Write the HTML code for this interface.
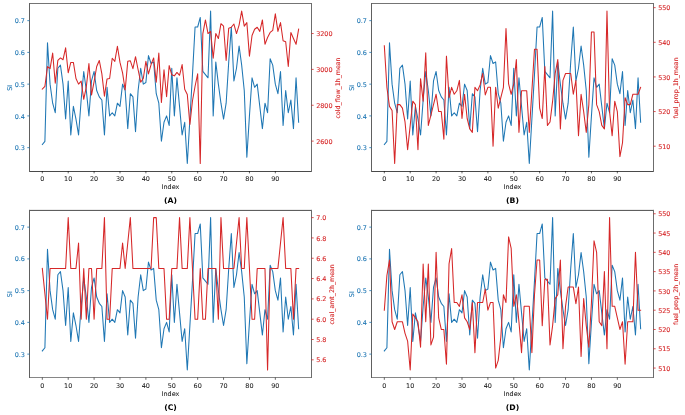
<!DOCTYPE html>
<html><head><meta charset="utf-8"><title>SI plots</title>
<style>html,body{margin:0;padding:0;background:#fff}svg{display:block;will-change:transform}</style></head>
<body>
<svg width="685" height="415" viewBox="0 0 685 415" text-rendering="geometricPrecision" font-family="'DejaVu Sans', 'Liberation Sans', sans-serif">
<rect width="685" height="415" fill="#fff"/>
<g>
<polyline fill="none" stroke="#1f77b4" stroke-width="1.05" stroke-linejoin="round" stroke-linecap="square" points="42.32,144.48 44.90,141.30 47.49,42.87 50.08,84.15 52.67,103.20 55.26,112.73 57.85,68.27 60.44,65.10 63.03,84.15 65.62,119.08 68.21,80.97 70.80,134.95 73.38,106.38 75.97,119.08 78.56,134.95 81.15,100.03 83.74,71.45 86.33,90.50 88.92,115.90 91.51,80.97 94.10,71.45 96.69,90.50 99.28,96.85 101.86,100.03 104.45,134.95 107.04,87.33 109.63,115.90 112.22,112.73 114.81,115.90 117.40,103.20 119.99,106.38 122.58,84.15 125.17,90.50 127.76,128.60 130.34,93.68 132.93,96.85 135.52,131.78 138.11,90.50 140.70,68.27 143.29,84.15 145.88,82.56 148.47,55.57 151.06,63.51 153.65,61.92 156.24,93.68 158.82,103.20 161.41,141.30 164.00,122.25 166.59,115.90 169.18,125.43 171.77,68.27 174.36,115.90 176.95,77.80 179.54,106.38 182.13,134.95 184.71,122.25 187.30,163.53 189.89,119.08 192.48,74.62 195.07,27.00 197.66,27.00 200.25,17.47 202.84,71.45 205.43,74.62 208.02,77.80 210.61,11.12 213.19,115.90 215.78,61.92 218.37,84.15 220.96,103.20 223.55,119.08 226.14,103.20 228.73,61.92 231.32,27.00 233.91,80.97 236.50,68.27 239.09,46.05 241.67,65.10 244.26,90.50 246.85,157.18 249.44,115.90 252.03,77.80 254.62,87.33 257.21,84.15 259.80,106.38 262.39,128.60 264.98,103.20 267.57,112.73 270.15,58.75 272.74,65.10 275.33,84.15 277.92,93.68 280.51,71.45 283.10,125.43 285.69,90.50 288.28,112.73 290.87,100.03 293.46,128.60 296.05,77.80 298.63,122.25"/>
<polyline fill="none" stroke="#d62728" stroke-width="1.05" stroke-linejoin="round" stroke-linecap="square" points="42.32,89.12 44.90,86.43 47.49,66.53 50.08,68.68 52.67,53.08 55.26,83.20 57.85,60.43 60.44,57.92 63.03,59.71 65.62,47.88 68.21,72.80 70.80,62.40 73.38,62.40 75.97,78.54 78.56,84.10 81.15,81.05 83.74,99.34 86.33,86.79 88.92,63.48 91.51,95.04 94.10,81.59 96.69,66.53 99.28,60.43 101.86,73.88 104.45,96.11 107.04,78.90 109.63,78.54 112.22,58.28 114.81,61.33 117.40,46.26 119.99,62.40 122.58,72.80 125.17,90.01 127.76,61.33 130.34,60.79 132.93,68.68 135.52,56.66 138.11,69.75 140.70,82.13 143.29,78.54 145.88,61.33 148.47,73.88 151.06,64.55 153.65,57.92 156.24,82.13 158.82,53.08 161.41,102.57 164.00,69.75 166.59,96.65 169.18,65.63 171.77,74.77 174.36,75.85 176.95,72.44 179.54,75.31 182.13,64.55 184.71,89.30 187.30,94.50 189.89,124.44 192.48,100.77 195.07,86.25 197.66,73.88 200.25,163.53 202.84,33.53 205.43,19.91 208.02,33.53 210.61,31.38 213.19,58.28 215.78,33.53 218.37,38.55 220.96,23.67 223.55,26.18 226.14,60.43 228.73,28.15 231.32,27.26 233.91,24.03 236.50,33.53 239.09,25.11 241.67,11.12 244.26,26.18 246.85,22.60 249.44,56.13 252.03,35.51 254.62,29.23 257.21,27.26 259.80,31.38 262.39,19.91 264.98,44.29 267.57,37.48 270.15,32.46 272.74,30.31 275.33,13.81 277.92,31.38 280.51,22.60 283.10,40.71 285.69,41.78 288.28,66.53 290.87,32.46 293.46,38.55 296.05,44.29 298.63,29.23"/>
<path d="M29.00 3.50H311.95" stroke="#747474" stroke-width="1" fill="none"/>
<path d="M29.00 171.50H311.95" stroke="#4a4a4a" stroke-width="1" fill="none"/>
<path d="M29.50 3.00V172.00" stroke="#606060" stroke-width="1" fill="none"/>
<path d="M311.50 3.00V172.00" stroke="#6c6c6c" stroke-width="1" fill="none"/>
<line x1="42.32" y1="171.15" x2="42.32" y2="173.35" stroke="#000" stroke-width="0.6"/>
<text x="42.32" y="180.55" font-size="6.45" text-anchor="middle" fill="#1a1a1a" stroke="#1a1a1a" stroke-width="0.05">0</text>
<line x1="68.21" y1="171.15" x2="68.21" y2="173.35" stroke="#000" stroke-width="0.6"/>
<text x="68.21" y="180.55" font-size="6.45" text-anchor="middle" fill="#1a1a1a" stroke="#1a1a1a" stroke-width="0.05">10</text>
<line x1="94.10" y1="171.15" x2="94.10" y2="173.35" stroke="#000" stroke-width="0.6"/>
<text x="94.10" y="180.55" font-size="6.45" text-anchor="middle" fill="#1a1a1a" stroke="#1a1a1a" stroke-width="0.05">20</text>
<line x1="119.99" y1="171.15" x2="119.99" y2="173.35" stroke="#000" stroke-width="0.6"/>
<text x="119.99" y="180.55" font-size="6.45" text-anchor="middle" fill="#1a1a1a" stroke="#1a1a1a" stroke-width="0.05">30</text>
<line x1="145.88" y1="171.15" x2="145.88" y2="173.35" stroke="#000" stroke-width="0.6"/>
<text x="145.88" y="180.55" font-size="6.45" text-anchor="middle" fill="#1a1a1a" stroke="#1a1a1a" stroke-width="0.05">40</text>
<line x1="171.77" y1="171.15" x2="171.77" y2="173.35" stroke="#000" stroke-width="0.6"/>
<text x="171.77" y="180.55" font-size="6.45" text-anchor="middle" fill="#1a1a1a" stroke="#1a1a1a" stroke-width="0.05">50</text>
<line x1="197.66" y1="171.15" x2="197.66" y2="173.35" stroke="#000" stroke-width="0.6"/>
<text x="197.66" y="180.55" font-size="6.45" text-anchor="middle" fill="#1a1a1a" stroke="#1a1a1a" stroke-width="0.05">60</text>
<line x1="223.55" y1="171.15" x2="223.55" y2="173.35" stroke="#000" stroke-width="0.6"/>
<text x="223.55" y="180.55" font-size="6.45" text-anchor="middle" fill="#1a1a1a" stroke="#1a1a1a" stroke-width="0.05">70</text>
<line x1="249.44" y1="171.15" x2="249.44" y2="173.35" stroke="#000" stroke-width="0.6"/>
<text x="249.44" y="180.55" font-size="6.45" text-anchor="middle" fill="#1a1a1a" stroke="#1a1a1a" stroke-width="0.05">80</text>
<line x1="275.33" y1="171.15" x2="275.33" y2="173.35" stroke="#000" stroke-width="0.6"/>
<text x="275.33" y="180.55" font-size="6.45" text-anchor="middle" fill="#1a1a1a" stroke="#1a1a1a" stroke-width="0.05">90</text>
<line x1="27.30" y1="147.65" x2="29.50" y2="147.65" stroke="#1f77b4" stroke-width="0.8"/>
<text x="24.90" y="150.26" font-size="6.45" text-anchor="end" fill="#1f77b4" stroke="#1f77b4" stroke-width="0.10">0.3</text>
<line x1="27.30" y1="115.90" x2="29.50" y2="115.90" stroke="#1f77b4" stroke-width="0.8"/>
<text x="24.90" y="118.51" font-size="6.45" text-anchor="end" fill="#1f77b4" stroke="#1f77b4" stroke-width="0.10">0.4</text>
<line x1="27.30" y1="84.15" x2="29.50" y2="84.15" stroke="#1f77b4" stroke-width="0.8"/>
<text x="24.90" y="86.75" font-size="6.45" text-anchor="end" fill="#1f77b4" stroke="#1f77b4" stroke-width="0.10">0.5</text>
<line x1="27.30" y1="52.40" x2="29.50" y2="52.40" stroke="#1f77b4" stroke-width="0.8"/>
<text x="24.90" y="55.00" font-size="6.45" text-anchor="end" fill="#1f77b4" stroke="#1f77b4" stroke-width="0.10">0.6</text>
<line x1="27.30" y1="20.65" x2="29.50" y2="20.65" stroke="#1f77b4" stroke-width="0.8"/>
<text x="24.90" y="23.25" font-size="6.45" text-anchor="end" fill="#1f77b4" stroke="#1f77b4" stroke-width="0.10">0.7</text>
<line x1="311.45" y1="141.12" x2="313.65" y2="141.12" stroke="#d62728" stroke-width="0.8"/>
<text x="316.15" y="143.72" font-size="6.45" text-anchor="start" fill="#d62728" stroke="#d62728" stroke-width="0.10">2600</text>
<line x1="311.45" y1="105.26" x2="313.65" y2="105.26" stroke="#d62728" stroke-width="0.8"/>
<text x="316.15" y="107.86" font-size="6.45" text-anchor="start" fill="#d62728" stroke="#d62728" stroke-width="0.10">2800</text>
<line x1="311.45" y1="69.39" x2="313.65" y2="69.39" stroke="#d62728" stroke-width="0.8"/>
<text x="316.15" y="72.00" font-size="6.45" text-anchor="start" fill="#d62728" stroke="#d62728" stroke-width="0.10">3000</text>
<line x1="311.45" y1="33.53" x2="313.65" y2="33.53" stroke="#d62728" stroke-width="0.8"/>
<text x="316.15" y="36.14" font-size="6.45" text-anchor="start" fill="#d62728" stroke="#d62728" stroke-width="0.10">3200</text>
<text x="170.47" y="189.35" font-size="6.45" text-anchor="middle" fill="#1a1a1a" stroke="#1a1a1a" stroke-width="0.05">Index</text>
<text x="170.47" y="203.35" font-size="7.70" font-weight="bold" text-anchor="middle" fill="#000">(A)</text>
<text transform="translate(11.70,87.73) rotate(-90)" font-size="6.45" text-anchor="middle" fill="#1f77b4" stroke="#1f77b4" stroke-width="0.10">SI</text>
<text transform="translate(340.05,87.92) rotate(-90)" font-size="6.27" text-anchor="middle" fill="#d62728" stroke="#d62728" stroke-width="0.10">cold_flow_1h_mean</text>
</g>
<g>
<polyline fill="none" stroke="#1f77b4" stroke-width="1.05" stroke-linejoin="round" stroke-linecap="square" points="384.32,144.48 386.90,141.30 389.49,42.87 392.08,84.15 394.67,103.20 397.26,112.73 399.85,68.27 402.44,65.10 405.03,84.15 407.62,119.08 410.21,80.97 412.80,134.95 415.38,106.38 417.97,119.08 420.56,134.95 423.15,100.03 425.74,71.45 428.33,90.50 430.92,115.90 433.51,80.97 436.10,71.45 438.69,90.50 441.28,96.85 443.86,100.03 446.45,134.95 449.04,87.33 451.63,115.90 454.22,112.73 456.81,115.90 459.40,103.20 461.99,106.38 464.58,84.15 467.17,90.50 469.76,128.60 472.34,93.68 474.93,96.85 477.52,131.78 480.11,90.50 482.70,68.27 485.29,84.15 487.88,82.56 490.47,55.57 493.06,63.51 495.65,61.92 498.24,93.68 500.82,103.20 503.41,141.30 506.00,122.25 508.59,115.90 511.18,125.43 513.77,68.27 516.36,115.90 518.95,77.80 521.54,106.38 524.13,134.95 526.71,122.25 529.30,163.53 531.89,119.08 534.48,74.62 537.07,27.00 539.66,27.00 542.25,17.47 544.84,71.45 547.43,74.62 550.02,77.80 552.61,11.12 555.19,115.90 557.78,61.92 560.37,84.15 562.96,103.20 565.55,119.08 568.14,103.20 570.73,61.92 573.32,27.00 575.91,80.97 578.50,68.27 581.09,46.05 583.67,65.10 586.26,90.50 588.85,157.18 591.44,115.90 594.03,77.80 596.62,87.33 599.21,84.15 601.80,106.38 604.39,128.60 606.98,103.20 609.57,112.73 612.15,58.75 614.74,65.10 617.33,84.15 619.92,93.68 622.51,71.45 625.10,125.43 627.69,90.50 630.28,112.73 632.87,100.03 635.46,128.60 638.05,77.80 640.63,122.25"/>
<polyline fill="none" stroke="#d62728" stroke-width="1.05" stroke-linejoin="round" stroke-linecap="square" points="384.32,45.76 386.90,87.33 389.49,106.38 392.08,110.53 394.67,163.53 397.26,104.64 399.85,104.64 402.44,108.11 405.03,121.96 407.62,149.67 410.21,125.43 412.80,101.18 415.38,104.64 417.97,149.67 420.56,78.67 423.15,101.18 425.74,52.69 428.33,125.43 430.92,115.04 433.51,104.64 436.10,94.25 438.69,111.57 441.28,111.57 443.86,139.28 446.45,56.15 449.04,97.72 451.63,87.33 454.22,94.25 456.81,90.79 459.40,80.40 461.99,118.50 464.58,94.25 467.17,118.50 469.76,128.89 472.34,132.35 474.93,87.33 477.52,90.79 480.11,84.90 482.70,73.47 485.29,94.95 487.88,87.33 490.47,87.33 493.06,146.21 495.65,87.33 498.24,108.11 500.82,97.72 503.41,87.33 506.00,28.44 508.59,83.86 511.18,94.25 513.77,83.86 516.36,59.61 518.95,132.35 521.54,90.79 524.13,90.79 526.71,90.79 529.30,132.35 531.89,90.79 534.48,49.22 537.07,49.22 539.66,108.11 542.25,118.50 544.84,66.54 547.43,125.43 550.02,121.96 552.61,101.18 555.19,73.47 557.78,59.61 560.37,128.89 562.96,80.40 565.55,73.47 568.14,73.47 570.73,73.47 573.32,94.25 575.91,80.40 578.50,135.82 581.09,94.25 583.67,111.57 586.26,132.35 588.85,104.64 591.44,31.90 594.03,31.90 596.62,104.64 599.21,111.57 601.80,125.43 604.39,128.89 606.98,11.12 609.57,111.57 612.15,135.82 614.74,101.18 617.33,111.57 619.92,156.60 622.51,142.75 625.10,97.72 627.69,104.64 630.28,104.64 632.87,94.25 635.46,94.25 638.05,94.25 640.63,87.33"/>
<path d="M371.00 3.50H653.95" stroke="#747474" stroke-width="1" fill="none"/>
<path d="M371.00 171.50H653.95" stroke="#4a4a4a" stroke-width="1" fill="none"/>
<path d="M371.50 3.00V172.00" stroke="#606060" stroke-width="1" fill="none"/>
<path d="M653.50 3.00V172.00" stroke="#6c6c6c" stroke-width="1" fill="none"/>
<line x1="384.32" y1="171.15" x2="384.32" y2="173.35" stroke="#000" stroke-width="0.6"/>
<text x="384.32" y="180.55" font-size="6.45" text-anchor="middle" fill="#1a1a1a" stroke="#1a1a1a" stroke-width="0.05">0</text>
<line x1="410.21" y1="171.15" x2="410.21" y2="173.35" stroke="#000" stroke-width="0.6"/>
<text x="410.21" y="180.55" font-size="6.45" text-anchor="middle" fill="#1a1a1a" stroke="#1a1a1a" stroke-width="0.05">10</text>
<line x1="436.10" y1="171.15" x2="436.10" y2="173.35" stroke="#000" stroke-width="0.6"/>
<text x="436.10" y="180.55" font-size="6.45" text-anchor="middle" fill="#1a1a1a" stroke="#1a1a1a" stroke-width="0.05">20</text>
<line x1="461.99" y1="171.15" x2="461.99" y2="173.35" stroke="#000" stroke-width="0.6"/>
<text x="461.99" y="180.55" font-size="6.45" text-anchor="middle" fill="#1a1a1a" stroke="#1a1a1a" stroke-width="0.05">30</text>
<line x1="487.88" y1="171.15" x2="487.88" y2="173.35" stroke="#000" stroke-width="0.6"/>
<text x="487.88" y="180.55" font-size="6.45" text-anchor="middle" fill="#1a1a1a" stroke="#1a1a1a" stroke-width="0.05">40</text>
<line x1="513.77" y1="171.15" x2="513.77" y2="173.35" stroke="#000" stroke-width="0.6"/>
<text x="513.77" y="180.55" font-size="6.45" text-anchor="middle" fill="#1a1a1a" stroke="#1a1a1a" stroke-width="0.05">50</text>
<line x1="539.66" y1="171.15" x2="539.66" y2="173.35" stroke="#000" stroke-width="0.6"/>
<text x="539.66" y="180.55" font-size="6.45" text-anchor="middle" fill="#1a1a1a" stroke="#1a1a1a" stroke-width="0.05">60</text>
<line x1="565.55" y1="171.15" x2="565.55" y2="173.35" stroke="#000" stroke-width="0.6"/>
<text x="565.55" y="180.55" font-size="6.45" text-anchor="middle" fill="#1a1a1a" stroke="#1a1a1a" stroke-width="0.05">70</text>
<line x1="591.44" y1="171.15" x2="591.44" y2="173.35" stroke="#000" stroke-width="0.6"/>
<text x="591.44" y="180.55" font-size="6.45" text-anchor="middle" fill="#1a1a1a" stroke="#1a1a1a" stroke-width="0.05">80</text>
<line x1="617.33" y1="171.15" x2="617.33" y2="173.35" stroke="#000" stroke-width="0.6"/>
<text x="617.33" y="180.55" font-size="6.45" text-anchor="middle" fill="#1a1a1a" stroke="#1a1a1a" stroke-width="0.05">90</text>
<line x1="369.30" y1="147.65" x2="371.50" y2="147.65" stroke="#1f77b4" stroke-width="0.8"/>
<text x="366.90" y="150.26" font-size="6.45" text-anchor="end" fill="#1f77b4" stroke="#1f77b4" stroke-width="0.10">0.3</text>
<line x1="369.30" y1="115.90" x2="371.50" y2="115.90" stroke="#1f77b4" stroke-width="0.8"/>
<text x="366.90" y="118.51" font-size="6.45" text-anchor="end" fill="#1f77b4" stroke="#1f77b4" stroke-width="0.10">0.4</text>
<line x1="369.30" y1="84.15" x2="371.50" y2="84.15" stroke="#1f77b4" stroke-width="0.8"/>
<text x="366.90" y="86.75" font-size="6.45" text-anchor="end" fill="#1f77b4" stroke="#1f77b4" stroke-width="0.10">0.5</text>
<line x1="369.30" y1="52.40" x2="371.50" y2="52.40" stroke="#1f77b4" stroke-width="0.8"/>
<text x="366.90" y="55.00" font-size="6.45" text-anchor="end" fill="#1f77b4" stroke="#1f77b4" stroke-width="0.10">0.6</text>
<line x1="369.30" y1="20.65" x2="371.50" y2="20.65" stroke="#1f77b4" stroke-width="0.8"/>
<text x="366.90" y="23.25" font-size="6.45" text-anchor="end" fill="#1f77b4" stroke="#1f77b4" stroke-width="0.10">0.7</text>
<line x1="653.45" y1="146.21" x2="655.65" y2="146.21" stroke="#d62728" stroke-width="0.8"/>
<text x="658.15" y="148.81" font-size="6.45" text-anchor="start" fill="#d62728" stroke="#d62728" stroke-width="0.10">510</text>
<line x1="653.45" y1="111.57" x2="655.65" y2="111.57" stroke="#d62728" stroke-width="0.8"/>
<text x="658.15" y="114.18" font-size="6.45" text-anchor="start" fill="#d62728" stroke="#d62728" stroke-width="0.10">520</text>
<line x1="653.45" y1="76.93" x2="655.65" y2="76.93" stroke="#d62728" stroke-width="0.8"/>
<text x="658.15" y="79.54" font-size="6.45" text-anchor="start" fill="#d62728" stroke="#d62728" stroke-width="0.10">530</text>
<line x1="653.45" y1="42.30" x2="655.65" y2="42.30" stroke="#d62728" stroke-width="0.8"/>
<text x="658.15" y="44.90" font-size="6.45" text-anchor="start" fill="#d62728" stroke="#d62728" stroke-width="0.10">540</text>
<line x1="653.45" y1="7.66" x2="655.65" y2="7.66" stroke="#d62728" stroke-width="0.8"/>
<text x="658.15" y="10.26" font-size="6.45" text-anchor="start" fill="#d62728" stroke="#d62728" stroke-width="0.10">550</text>
<text x="512.48" y="189.35" font-size="6.45" text-anchor="middle" fill="#1a1a1a" stroke="#1a1a1a" stroke-width="0.05">Index</text>
<text x="512.48" y="203.35" font-size="7.70" font-weight="bold" text-anchor="middle" fill="#000">(B)</text>
<text transform="translate(353.70,87.73) rotate(-90)" font-size="6.45" text-anchor="middle" fill="#1f77b4" stroke="#1f77b4" stroke-width="0.10">SI</text>
<text transform="translate(678.15,87.92) rotate(-90)" font-size="6.27" text-anchor="middle" fill="#d62728" stroke="#d62728" stroke-width="0.10">fuel_prop_1h_mean</text>
</g>
<g>
<polyline fill="none" stroke="#1f77b4" stroke-width="1.05" stroke-linejoin="round" stroke-linecap="square" points="42.32,350.94 44.90,347.76 47.49,249.36 50.08,290.63 52.67,309.67 55.26,319.19 57.85,274.75 60.44,271.58 63.03,290.63 65.62,325.54 68.21,287.45 70.80,341.41 73.38,312.85 75.97,325.54 78.56,341.41 81.15,306.50 83.74,277.93 86.33,296.97 88.92,322.37 91.51,287.45 94.10,277.93 96.69,296.97 99.28,303.32 101.86,306.50 104.45,341.41 107.04,293.80 109.63,322.37 112.22,319.19 114.81,322.37 117.40,309.67 119.99,312.85 122.58,290.63 125.17,296.97 127.76,335.07 130.34,300.15 132.93,303.32 135.52,338.24 138.11,296.97 140.70,274.75 143.29,290.63 145.88,289.04 148.47,262.06 151.06,269.99 153.65,268.41 156.24,300.15 158.82,309.67 161.41,347.76 164.00,328.72 166.59,322.37 169.18,331.89 171.77,274.75 174.36,322.37 176.95,284.28 179.54,312.85 182.13,341.41 184.71,328.72 187.30,369.98 189.89,325.54 192.48,281.10 195.07,233.49 197.66,233.49 200.25,223.97 202.84,277.93 205.43,281.10 208.02,284.28 210.61,217.62 213.19,322.37 215.78,268.41 218.37,290.63 220.96,309.67 223.55,325.54 226.14,309.67 228.73,268.41 231.32,233.49 233.91,287.45 236.50,274.75 239.09,252.53 241.67,271.58 244.26,296.97 246.85,363.63 249.44,322.37 252.03,284.28 254.62,293.80 257.21,290.63 259.80,312.85 262.39,335.07 264.98,309.67 267.57,319.19 270.15,265.23 272.74,271.58 275.33,290.63 277.92,300.15 280.51,277.93 283.10,331.89 285.69,296.97 288.28,319.19 290.87,306.50 293.46,335.07 296.05,284.28 298.63,328.72"/>
<polyline fill="none" stroke="#d62728" stroke-width="1.05" stroke-linejoin="round" stroke-linecap="square" points="42.32,268.41 44.90,293.80 47.49,319.19 50.08,268.41 52.67,268.41 55.26,268.41 57.85,268.41 60.44,268.41 63.03,268.41 65.62,268.41 68.21,217.62 70.80,268.41 73.38,268.41 75.97,268.41 78.56,243.01 81.15,319.19 83.74,268.41 86.33,319.19 88.92,268.41 91.51,268.41 94.10,319.19 96.69,268.41 99.28,268.41 101.86,268.41 104.45,217.62 107.04,319.19 109.63,319.19 112.22,268.41 114.81,268.41 117.40,268.41 119.99,268.41 122.58,243.01 125.17,268.41 127.76,243.01 130.34,217.62 132.93,268.41 135.52,268.41 138.11,268.41 140.70,268.41 143.29,268.41 145.88,268.41 148.47,268.41 151.06,268.41 153.65,217.62 156.24,217.62 158.82,268.41 161.41,268.41 164.00,268.41 166.59,319.19 169.18,319.19 171.77,268.41 174.36,268.41 176.95,268.41 179.54,217.62 182.13,268.41 184.71,268.41 187.30,268.41 189.89,217.62 192.48,268.41 195.07,319.19 197.66,319.19 200.25,268.41 202.84,319.19 205.43,319.19 208.02,268.41 210.61,268.41 213.19,268.41 215.78,268.41 218.37,319.19 220.96,217.62 223.55,268.41 226.14,268.41 228.73,268.41 231.32,268.41 233.91,268.41 236.50,243.01 239.09,217.62 241.67,268.41 244.26,268.41 246.85,217.62 249.44,268.41 252.03,319.19 254.62,319.19 257.21,268.41 259.80,268.41 262.39,268.41 264.98,268.41 267.57,369.98 270.15,268.41 272.74,268.41 275.33,268.41 277.92,268.41 280.51,243.01 283.10,217.62 285.69,268.41 288.28,268.41 290.87,268.41 293.46,319.19 296.05,268.41 298.63,268.41"/>
<path d="M29.00 210.40H311.95" stroke="#4c4c4c" stroke-width="1" fill="none"/>
<path d="M29.00 377.50H311.95" stroke="#868686" stroke-width="1" fill="none"/>
<path d="M29.50 209.90V378.00" stroke="#606060" stroke-width="1" fill="none"/>
<path d="M311.50 209.90V378.00" stroke="#6c6c6c" stroke-width="1" fill="none"/>
<line x1="42.32" y1="377.60" x2="42.32" y2="379.80" stroke="#000" stroke-width="0.6"/>
<text x="42.32" y="387.50" font-size="6.45" text-anchor="middle" fill="#1a1a1a" stroke="#1a1a1a" stroke-width="0.05">0</text>
<line x1="68.21" y1="377.60" x2="68.21" y2="379.80" stroke="#000" stroke-width="0.6"/>
<text x="68.21" y="387.50" font-size="6.45" text-anchor="middle" fill="#1a1a1a" stroke="#1a1a1a" stroke-width="0.05">10</text>
<line x1="94.10" y1="377.60" x2="94.10" y2="379.80" stroke="#000" stroke-width="0.6"/>
<text x="94.10" y="387.50" font-size="6.45" text-anchor="middle" fill="#1a1a1a" stroke="#1a1a1a" stroke-width="0.05">20</text>
<line x1="119.99" y1="377.60" x2="119.99" y2="379.80" stroke="#000" stroke-width="0.6"/>
<text x="119.99" y="387.50" font-size="6.45" text-anchor="middle" fill="#1a1a1a" stroke="#1a1a1a" stroke-width="0.05">30</text>
<line x1="145.88" y1="377.60" x2="145.88" y2="379.80" stroke="#000" stroke-width="0.6"/>
<text x="145.88" y="387.50" font-size="6.45" text-anchor="middle" fill="#1a1a1a" stroke="#1a1a1a" stroke-width="0.05">40</text>
<line x1="171.77" y1="377.60" x2="171.77" y2="379.80" stroke="#000" stroke-width="0.6"/>
<text x="171.77" y="387.50" font-size="6.45" text-anchor="middle" fill="#1a1a1a" stroke="#1a1a1a" stroke-width="0.05">50</text>
<line x1="197.66" y1="377.60" x2="197.66" y2="379.80" stroke="#000" stroke-width="0.6"/>
<text x="197.66" y="387.50" font-size="6.45" text-anchor="middle" fill="#1a1a1a" stroke="#1a1a1a" stroke-width="0.05">60</text>
<line x1="223.55" y1="377.60" x2="223.55" y2="379.80" stroke="#000" stroke-width="0.6"/>
<text x="223.55" y="387.50" font-size="6.45" text-anchor="middle" fill="#1a1a1a" stroke="#1a1a1a" stroke-width="0.05">70</text>
<line x1="249.44" y1="377.60" x2="249.44" y2="379.80" stroke="#000" stroke-width="0.6"/>
<text x="249.44" y="387.50" font-size="6.45" text-anchor="middle" fill="#1a1a1a" stroke="#1a1a1a" stroke-width="0.05">80</text>
<line x1="275.33" y1="377.60" x2="275.33" y2="379.80" stroke="#000" stroke-width="0.6"/>
<text x="275.33" y="387.50" font-size="6.45" text-anchor="middle" fill="#1a1a1a" stroke="#1a1a1a" stroke-width="0.05">90</text>
<line x1="27.30" y1="354.11" x2="29.50" y2="354.11" stroke="#1f77b4" stroke-width="0.8"/>
<text x="24.90" y="356.71" font-size="6.45" text-anchor="end" fill="#1f77b4" stroke="#1f77b4" stroke-width="0.10">0.3</text>
<line x1="27.30" y1="322.37" x2="29.50" y2="322.37" stroke="#1f77b4" stroke-width="0.8"/>
<text x="24.90" y="324.97" font-size="6.45" text-anchor="end" fill="#1f77b4" stroke="#1f77b4" stroke-width="0.10">0.4</text>
<line x1="27.30" y1="290.63" x2="29.50" y2="290.63" stroke="#1f77b4" stroke-width="0.8"/>
<text x="24.90" y="293.23" font-size="6.45" text-anchor="end" fill="#1f77b4" stroke="#1f77b4" stroke-width="0.10">0.5</text>
<line x1="27.30" y1="258.88" x2="29.50" y2="258.88" stroke="#1f77b4" stroke-width="0.8"/>
<text x="24.90" y="261.49" font-size="6.45" text-anchor="end" fill="#1f77b4" stroke="#1f77b4" stroke-width="0.10">0.6</text>
<line x1="27.30" y1="227.14" x2="29.50" y2="227.14" stroke="#1f77b4" stroke-width="0.8"/>
<text x="24.90" y="229.75" font-size="6.45" text-anchor="end" fill="#1f77b4" stroke="#1f77b4" stroke-width="0.10">0.7</text>
<line x1="311.45" y1="359.82" x2="313.65" y2="359.82" stroke="#d62728" stroke-width="0.8"/>
<text x="316.15" y="362.43" font-size="6.45" text-anchor="start" fill="#d62728" stroke="#d62728" stroke-width="0.10">5.6</text>
<line x1="311.45" y1="339.51" x2="313.65" y2="339.51" stroke="#d62728" stroke-width="0.8"/>
<text x="316.15" y="342.11" font-size="6.45" text-anchor="start" fill="#d62728" stroke="#d62728" stroke-width="0.10">5.8</text>
<line x1="311.45" y1="319.19" x2="313.65" y2="319.19" stroke="#d62728" stroke-width="0.8"/>
<text x="316.15" y="321.80" font-size="6.45" text-anchor="start" fill="#d62728" stroke="#d62728" stroke-width="0.10">6.0</text>
<line x1="311.45" y1="298.88" x2="313.65" y2="298.88" stroke="#d62728" stroke-width="0.8"/>
<text x="316.15" y="301.48" font-size="6.45" text-anchor="start" fill="#d62728" stroke="#d62728" stroke-width="0.10">6.2</text>
<line x1="311.45" y1="278.56" x2="313.65" y2="278.56" stroke="#d62728" stroke-width="0.8"/>
<text x="316.15" y="281.17" font-size="6.45" text-anchor="start" fill="#d62728" stroke="#d62728" stroke-width="0.10">6.4</text>
<line x1="311.45" y1="258.25" x2="313.65" y2="258.25" stroke="#d62728" stroke-width="0.8"/>
<text x="316.15" y="260.85" font-size="6.45" text-anchor="start" fill="#d62728" stroke="#d62728" stroke-width="0.10">6.6</text>
<line x1="311.45" y1="237.93" x2="313.65" y2="237.93" stroke="#d62728" stroke-width="0.8"/>
<text x="316.15" y="240.54" font-size="6.45" text-anchor="start" fill="#d62728" stroke="#d62728" stroke-width="0.10">6.8</text>
<line x1="311.45" y1="217.62" x2="313.65" y2="217.62" stroke="#d62728" stroke-width="0.8"/>
<text x="316.15" y="220.22" font-size="6.45" text-anchor="start" fill="#d62728" stroke="#d62728" stroke-width="0.10">7.0</text>
<text x="170.47" y="396.00" font-size="6.45" text-anchor="middle" fill="#1a1a1a" stroke="#1a1a1a" stroke-width="0.05">Index</text>
<text x="170.47" y="410.00" font-size="7.70" font-weight="bold" text-anchor="middle" fill="#000">(C)</text>
<text transform="translate(11.70,294.20) rotate(-90)" font-size="6.45" text-anchor="middle" fill="#1f77b4" stroke="#1f77b4" stroke-width="0.10">SI</text>
<text transform="translate(333.75,294.40) rotate(-90)" font-size="6.27" text-anchor="middle" fill="#d62728" stroke="#d62728" stroke-width="0.10">coal_amt_2h_mean</text>
</g>
<g>
<polyline fill="none" stroke="#1f77b4" stroke-width="1.05" stroke-linejoin="round" stroke-linecap="square" points="384.32,350.94 386.90,347.76 389.49,249.36 392.08,290.63 394.67,309.67 397.26,319.19 399.85,274.75 402.44,271.58 405.03,290.63 407.62,325.54 410.21,287.45 412.80,341.41 415.38,312.85 417.97,325.54 420.56,341.41 423.15,306.50 425.74,277.93 428.33,296.97 430.92,322.37 433.51,287.45 436.10,277.93 438.69,296.97 441.28,303.32 443.86,306.50 446.45,341.41 449.04,293.80 451.63,322.37 454.22,319.19 456.81,322.37 459.40,309.67 461.99,312.85 464.58,290.63 467.17,296.97 469.76,335.07 472.34,300.15 474.93,303.32 477.52,338.24 480.11,296.97 482.70,274.75 485.29,290.63 487.88,289.04 490.47,262.06 493.06,269.99 495.65,268.41 498.24,300.15 500.82,309.67 503.41,347.76 506.00,328.72 508.59,322.37 511.18,331.89 513.77,274.75 516.36,322.37 518.95,284.28 521.54,312.85 524.13,341.41 526.71,328.72 529.30,369.98 531.89,325.54 534.48,281.10 537.07,233.49 539.66,233.49 542.25,223.97 544.84,277.93 547.43,281.10 550.02,284.28 552.61,217.62 555.19,322.37 557.78,268.41 560.37,290.63 562.96,309.67 565.55,325.54 568.14,309.67 570.73,268.41 573.32,233.49 575.91,287.45 578.50,274.75 581.09,252.53 583.67,271.58 586.26,296.97 588.85,363.63 591.44,322.37 594.03,284.28 596.62,293.80 599.21,290.63 601.80,312.85 604.39,335.07 606.98,309.67 609.57,319.19 612.15,265.23 614.74,271.58 617.33,290.63 619.92,300.15 622.51,277.93 625.10,331.89 627.69,296.97 630.28,319.19 632.87,306.50 635.46,335.07 638.05,284.28 640.63,328.72"/>
<polyline fill="none" stroke="#d62728" stroke-width="1.05" stroke-linejoin="round" stroke-linecap="square" points="384.32,310.19 386.90,275.48 389.49,260.05 392.08,321.77 394.67,329.48 397.26,321.77 399.85,321.77 402.44,321.77 405.03,333.34 407.62,341.05 410.21,369.98 412.80,314.05 415.38,317.91 417.97,321.77 420.56,347.22 423.15,263.91 425.74,321.77 428.33,263.91 430.92,344.91 433.51,337.19 436.10,252.33 438.69,317.91 441.28,329.48 443.86,329.48 446.45,364.20 449.04,263.91 451.63,248.48 454.22,302.48 456.81,302.48 459.40,306.34 461.99,294.76 464.58,317.91 467.17,321.77 469.76,329.48 472.34,302.48 474.93,352.62 477.52,302.48 480.11,302.48 482.70,302.48 485.29,288.98 487.88,310.19 490.47,302.48 493.06,302.48 495.65,368.05 498.24,360.34 500.82,337.19 503.41,294.76 506.00,302.48 508.59,236.90 511.18,248.48 513.77,306.34 516.36,294.76 518.95,321.77 521.54,352.62 524.13,306.34 526.71,306.34 529.30,306.34 531.89,352.62 534.48,294.76 537.07,260.05 539.66,260.05 542.25,325.62 544.84,279.34 547.43,279.34 550.02,344.91 552.61,325.62 555.19,298.62 557.78,294.76 560.37,260.05 562.96,348.77 565.55,306.34 568.14,287.05 570.73,287.05 573.32,287.05 575.91,303.64 578.50,287.05 581.09,356.48 583.67,298.62 586.26,325.62 588.85,347.22 591.44,302.48 594.03,240.76 596.62,252.33 599.21,321.77 601.80,325.62 604.39,271.62 606.98,348.77 609.57,217.62 612.15,306.34 614.74,306.34 617.33,317.91 619.92,329.48 622.51,321.77 625.10,364.20 627.69,321.77 630.28,321.77 632.87,321.77 635.46,252.33 638.05,310.19 640.63,310.19"/>
<path d="M371.00 210.40H653.95" stroke="#4c4c4c" stroke-width="1" fill="none"/>
<path d="M371.00 377.50H653.95" stroke="#868686" stroke-width="1" fill="none"/>
<path d="M371.50 209.90V378.00" stroke="#606060" stroke-width="1" fill="none"/>
<path d="M653.50 209.90V378.00" stroke="#6c6c6c" stroke-width="1" fill="none"/>
<line x1="384.32" y1="377.60" x2="384.32" y2="379.80" stroke="#000" stroke-width="0.6"/>
<text x="384.32" y="387.50" font-size="6.45" text-anchor="middle" fill="#1a1a1a" stroke="#1a1a1a" stroke-width="0.05">0</text>
<line x1="410.21" y1="377.60" x2="410.21" y2="379.80" stroke="#000" stroke-width="0.6"/>
<text x="410.21" y="387.50" font-size="6.45" text-anchor="middle" fill="#1a1a1a" stroke="#1a1a1a" stroke-width="0.05">10</text>
<line x1="436.10" y1="377.60" x2="436.10" y2="379.80" stroke="#000" stroke-width="0.6"/>
<text x="436.10" y="387.50" font-size="6.45" text-anchor="middle" fill="#1a1a1a" stroke="#1a1a1a" stroke-width="0.05">20</text>
<line x1="461.99" y1="377.60" x2="461.99" y2="379.80" stroke="#000" stroke-width="0.6"/>
<text x="461.99" y="387.50" font-size="6.45" text-anchor="middle" fill="#1a1a1a" stroke="#1a1a1a" stroke-width="0.05">30</text>
<line x1="487.88" y1="377.60" x2="487.88" y2="379.80" stroke="#000" stroke-width="0.6"/>
<text x="487.88" y="387.50" font-size="6.45" text-anchor="middle" fill="#1a1a1a" stroke="#1a1a1a" stroke-width="0.05">40</text>
<line x1="513.77" y1="377.60" x2="513.77" y2="379.80" stroke="#000" stroke-width="0.6"/>
<text x="513.77" y="387.50" font-size="6.45" text-anchor="middle" fill="#1a1a1a" stroke="#1a1a1a" stroke-width="0.05">50</text>
<line x1="539.66" y1="377.60" x2="539.66" y2="379.80" stroke="#000" stroke-width="0.6"/>
<text x="539.66" y="387.50" font-size="6.45" text-anchor="middle" fill="#1a1a1a" stroke="#1a1a1a" stroke-width="0.05">60</text>
<line x1="565.55" y1="377.60" x2="565.55" y2="379.80" stroke="#000" stroke-width="0.6"/>
<text x="565.55" y="387.50" font-size="6.45" text-anchor="middle" fill="#1a1a1a" stroke="#1a1a1a" stroke-width="0.05">70</text>
<line x1="591.44" y1="377.60" x2="591.44" y2="379.80" stroke="#000" stroke-width="0.6"/>
<text x="591.44" y="387.50" font-size="6.45" text-anchor="middle" fill="#1a1a1a" stroke="#1a1a1a" stroke-width="0.05">80</text>
<line x1="617.33" y1="377.60" x2="617.33" y2="379.80" stroke="#000" stroke-width="0.6"/>
<text x="617.33" y="387.50" font-size="6.45" text-anchor="middle" fill="#1a1a1a" stroke="#1a1a1a" stroke-width="0.05">90</text>
<line x1="369.30" y1="354.11" x2="371.50" y2="354.11" stroke="#1f77b4" stroke-width="0.8"/>
<text x="366.90" y="356.71" font-size="6.45" text-anchor="end" fill="#1f77b4" stroke="#1f77b4" stroke-width="0.10">0.3</text>
<line x1="369.30" y1="322.37" x2="371.50" y2="322.37" stroke="#1f77b4" stroke-width="0.8"/>
<text x="366.90" y="324.97" font-size="6.45" text-anchor="end" fill="#1f77b4" stroke="#1f77b4" stroke-width="0.10">0.4</text>
<line x1="369.30" y1="290.63" x2="371.50" y2="290.63" stroke="#1f77b4" stroke-width="0.8"/>
<text x="366.90" y="293.23" font-size="6.45" text-anchor="end" fill="#1f77b4" stroke="#1f77b4" stroke-width="0.10">0.5</text>
<line x1="369.30" y1="258.88" x2="371.50" y2="258.88" stroke="#1f77b4" stroke-width="0.8"/>
<text x="366.90" y="261.49" font-size="6.45" text-anchor="end" fill="#1f77b4" stroke="#1f77b4" stroke-width="0.10">0.6</text>
<line x1="369.30" y1="227.14" x2="371.50" y2="227.14" stroke="#1f77b4" stroke-width="0.8"/>
<text x="366.90" y="229.75" font-size="6.45" text-anchor="end" fill="#1f77b4" stroke="#1f77b4" stroke-width="0.10">0.7</text>
<line x1="653.45" y1="368.05" x2="655.65" y2="368.05" stroke="#d62728" stroke-width="0.8"/>
<text x="658.15" y="370.66" font-size="6.45" text-anchor="start" fill="#d62728" stroke="#d62728" stroke-width="0.10">510</text>
<line x1="653.45" y1="348.77" x2="655.65" y2="348.77" stroke="#d62728" stroke-width="0.8"/>
<text x="658.15" y="351.37" font-size="6.45" text-anchor="start" fill="#d62728" stroke="#d62728" stroke-width="0.10">515</text>
<line x1="653.45" y1="329.48" x2="655.65" y2="329.48" stroke="#d62728" stroke-width="0.8"/>
<text x="658.15" y="332.08" font-size="6.45" text-anchor="start" fill="#d62728" stroke="#d62728" stroke-width="0.10">520</text>
<line x1="653.45" y1="310.19" x2="655.65" y2="310.19" stroke="#d62728" stroke-width="0.8"/>
<text x="658.15" y="312.80" font-size="6.45" text-anchor="start" fill="#d62728" stroke="#d62728" stroke-width="0.10">525</text>
<line x1="653.45" y1="290.91" x2="655.65" y2="290.91" stroke="#d62728" stroke-width="0.8"/>
<text x="658.15" y="293.51" font-size="6.45" text-anchor="start" fill="#d62728" stroke="#d62728" stroke-width="0.10">530</text>
<line x1="653.45" y1="271.62" x2="655.65" y2="271.62" stroke="#d62728" stroke-width="0.8"/>
<text x="658.15" y="274.22" font-size="6.45" text-anchor="start" fill="#d62728" stroke="#d62728" stroke-width="0.10">535</text>
<line x1="653.45" y1="252.33" x2="655.65" y2="252.33" stroke="#d62728" stroke-width="0.8"/>
<text x="658.15" y="254.94" font-size="6.45" text-anchor="start" fill="#d62728" stroke="#d62728" stroke-width="0.10">540</text>
<line x1="653.45" y1="233.05" x2="655.65" y2="233.05" stroke="#d62728" stroke-width="0.8"/>
<text x="658.15" y="235.65" font-size="6.45" text-anchor="start" fill="#d62728" stroke="#d62728" stroke-width="0.10">545</text>
<line x1="653.45" y1="213.76" x2="655.65" y2="213.76" stroke="#d62728" stroke-width="0.8"/>
<text x="658.15" y="216.37" font-size="6.45" text-anchor="start" fill="#d62728" stroke="#d62728" stroke-width="0.10">550</text>
<text x="512.48" y="396.00" font-size="6.45" text-anchor="middle" fill="#1a1a1a" stroke="#1a1a1a" stroke-width="0.05">Index</text>
<text x="512.48" y="410.00" font-size="7.70" font-weight="bold" text-anchor="middle" fill="#000">(D)</text>
<text transform="translate(353.70,294.20) rotate(-90)" font-size="6.45" text-anchor="middle" fill="#1f77b4" stroke="#1f77b4" stroke-width="0.10">SI</text>
<text transform="translate(678.15,294.40) rotate(-90)" font-size="6.27" text-anchor="middle" fill="#d62728" stroke="#d62728" stroke-width="0.10">fuel_prop_2h_mean</text>
</g>
</svg>
</body></html>
